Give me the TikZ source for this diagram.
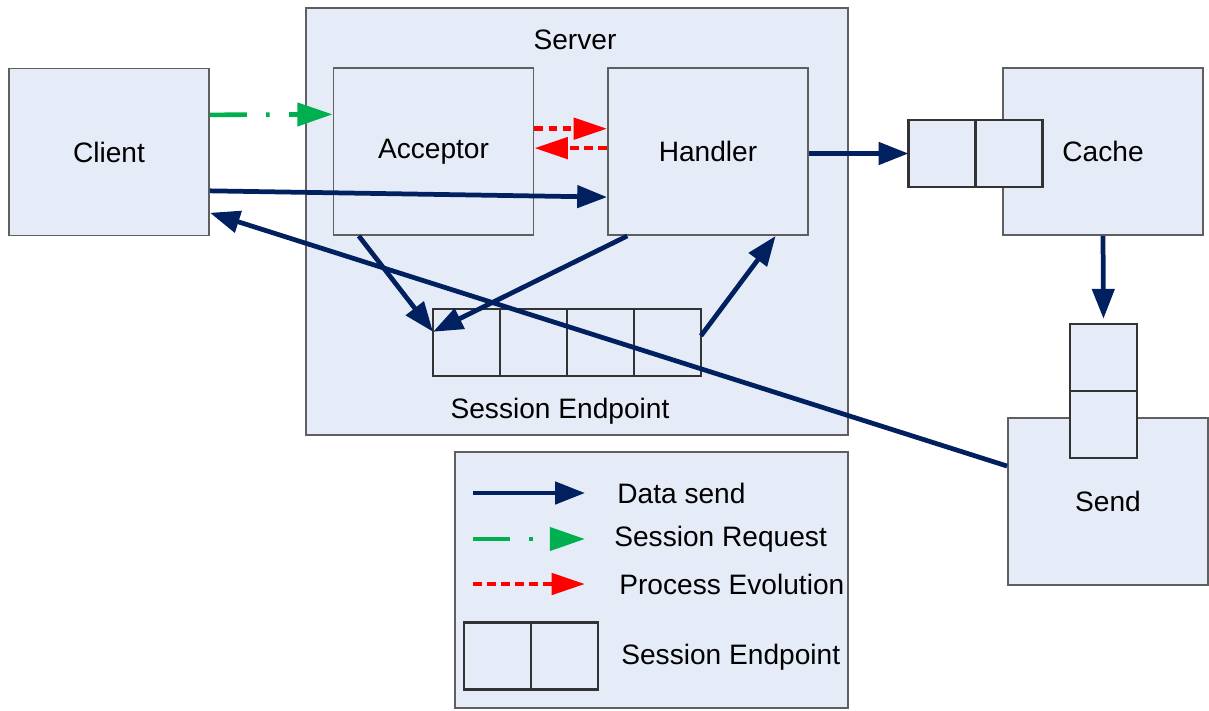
\documentclass[tikz,border=0pt]{standalone}
\usepackage{fontspec}
\setmainfont{Liberation Sans}
\usetikzlibrary{arrows.meta,positioning,calc}

\definecolor{boxfill}{HTML}{E6ECF7}
\definecolor{boxline}{HTML}{5F5F5F}
\definecolor{navy}{HTML}{002060}
\definecolor{reqgreen}{HTML}{00B050}

\begin{document}
\begin{tikzpicture}[x=0.02cm, y=-0.02cm,
  every node/.style={font=\fontsize{16}{19}\selectfont},
  block/.style={draw=boxline, fill=boxfill, line width=1.1pt, minimum width=4cm, minimum height=3.34cm, inner sep=0pt},
  cell/.style={draw=black!80, fill=boxfill, line width=1.2pt, minimum size=1.34cm, inner sep=0pt, outer sep=0pt},
  datasend/.style={draw=navy, line width=2.7pt, -{Triangle[length=17pt,width=12.5pt]}},
  sessreq/.style={draw=reqgreen, line width=2.6pt, dash pattern=on 21pt off 11pt on 2pt off 11pt, -{Triangle[length=20pt,width=13pt]}},
  procevo/.style={draw=red, line width=2.6pt, dash pattern=on 5pt off 3pt, -{Triangle[length=19pt,width=12pt]}},
  lbl/.style={anchor=west, inner sep=0pt}]

  \useasboundingbox (0,0) rectangle (1209,710);

  % Client
  \node[block] (client) at (109,152) {Client};

  % Server with acceptor, handler and its session endpoint
  \node[block, minimum width=10.84cm, minimum height=8.54cm] (server) at (577,221.5) {};
  \node (slabel) at (575,40) {Server};
  \node[block] (acceptor) at (433.5,151.5) {Acceptor};
  \node[block] (handler) at (708,151.5) {Handler};
  \node[cell] (q1) at (466.5,342.5) {};
  \node[cell, right=0pt of q1] (q2) {};
  \node[cell, right=0pt of q2] (q3) {};
  \node[cell, right=0pt of q3] (q4) {};
  \node (qlabel) at (560,411) {Session Endpoint};

  % Cache and Send
  \node[block] (cache) at (1103,151.5) {Cache};
  \node[cell] (cq1) at (942,153.5) {};
  \node[cell, right=0pt of cq1] (cq2) {};
  \node[block] (send) at (1108,501.5) {Send};
  \node[cell] (sq1) at (1103.5,357.5) {};
  \node[cell, below=0pt of sq1] (sq2) {};

  % Legend
  \node[block, minimum width=7.86cm, minimum height=5.12cm] (legend) at (651.5,580) {};
  \coordinate (ds0) at (473,493); \coordinate (ds1) at (585,493);
  \coordinate (sr0) at (473,539); \coordinate (sr1) at (585,539);
  \coordinate (pe0) at (473,584); \coordinate (pe1) at (585,584);
  \node[cell] (lq1) at (497.5,656) {};
  \node[cell, right=0pt of lq1] (lq2) {};
  \node[lbl] (dstext) at (617,493) {Data send};
  \node[lbl] (srtext) at (614,539) {Session Request};
  \node[lbl] (petext) at (619,584) {Process Evolution};
  \node[lbl] (setext) at (621,657) {Session Endpoint};
  \draw[datasend] (ds0) -- (ds1);
  \draw[sessreq] (sr0) -- (sr1);
  \draw[procevo] (pe0) -- (pe1);

  % Session request and process evolution
  \draw[sessreq] ($(client.north east)!0.28!(client.south east)$) -- ($(acceptor.north west)!0.28!(acceptor.south west)$);
  \draw[procevo] ($(acceptor.north east)!0.365!(acceptor.south east)$) -- ($(handler.north west)!0.365!(handler.south west)$);
  \draw[procevo] ($(handler.north west)!0.48!(handler.south west)$) -- ($(acceptor.north east)!0.48!(acceptor.south east)$);

  % Data send
  \draw[datasend] ($(client.north east)!0.73!(client.south east)$) -- ($(handler.north west)!0.77!(handler.south west)$);
  \draw[datasend] (handler.east |- cq1.west) -- (cq1.west);
  \draw[datasend, shorten >=3pt] (cache.south) -- (sq1.north);
  \draw[datasend] ($(send.north west)!0.29!(send.south west)$) -- ($(client.north east)!0.86!(client.south east)$);
  \draw[datasend] ($(acceptor.south west)!0.13!(acceptor.south east)$) -- ($(q1.north west)!0.34!(q1.south west)$);
  \draw[datasend] ($(handler.south west)!0.1!(handler.south east)$) -- ($(q1.north west)!0.34!(q1.south west)$);
  \draw[datasend] ($(q4.north east)!0.4!(q4.south east)$) -- ($(handler.south west)!0.835!(handler.south east)$);
\end{tikzpicture}
\end{document}
